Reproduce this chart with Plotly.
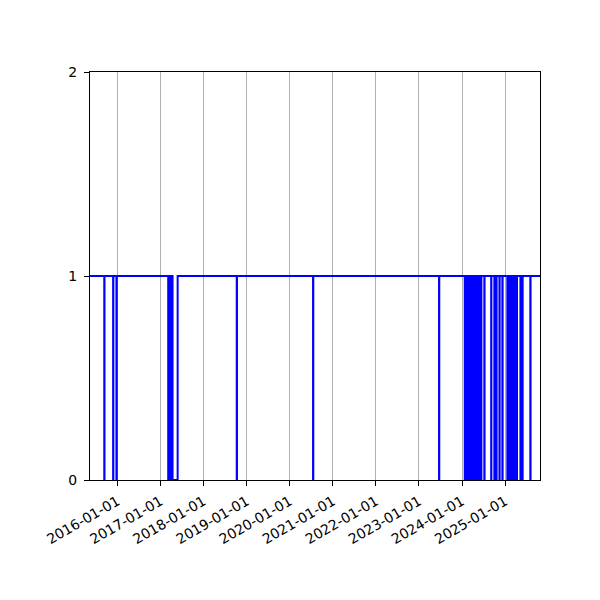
import plotly.graph_objects as go

# Start and end of the range shown.
x_first = '2015-05-14'
x_last = '2025-10-23'

# Periods where the signal drops to 0 (start, back to 1).
zero_start = ['2015-09-12', '2015-11-26', '2015-12-24', '2017-03-07', '2017-03-26', '2017-04-13',
              '2018-10-09', '2020-07-17', '2023-06-20',
              '2024-01-24', '2024-01-29', '2024-02-03', '2024-02-08', '2024-02-13', '2024-02-18',
              '2024-02-23', '2024-02-28', '2024-03-04', '2024-03-09', '2024-03-14', '2024-03-19',
              '2024-03-24', '2024-03-29', '2024-04-03', '2024-04-08', '2024-04-13', '2024-04-18',
              '2024-04-23', '2024-04-28', '2024-05-03', '2024-05-08', '2024-05-13', '2024-05-18',
              '2024-05-23', '2024-05-28', '2024-06-02',
              '2024-06-11', '2024-07-08', '2024-09-04', '2024-10-01', '2024-10-18', '2024-11-13',
              '2024-12-08', '2025-01-19', '2025-02-05', '2025-02-22', '2025-03-11', '2025-03-25',
              '2025-05-10', '2025-05-27', '2025-08-02']
zero_end = ['2015-09-14', '2015-11-28', '2015-12-27', '2017-03-10', '2017-03-28', '2017-05-26',
            '2018-10-11', '2020-07-19', '2023-06-22',
            '2024-01-26', '2024-01-31', '2024-02-05', '2024-02-10', '2024-02-15', '2024-02-20',
            '2024-02-25', '2024-03-01', '2024-03-06', '2024-03-11', '2024-03-16', '2024-03-21',
            '2024-03-26', '2024-03-31', '2024-04-05', '2024-04-10', '2024-04-15', '2024-04-20',
            '2024-04-25', '2024-04-30', '2024-05-05', '2024-05-10', '2024-05-15', '2024-05-20',
            '2024-05-25', '2024-05-30', '2024-06-04',
            '2024-06-13', '2024-07-10', '2024-09-06', '2024-10-03', '2024-10-20', '2024-11-15',
            '2024-12-10', '2025-01-21', '2025-02-07', '2025-02-24', '2025-03-13', '2025-04-11',
            '2025-05-12', '2025-05-29', '2025-08-04']

y_ticks = [0, 1, 2]

# Build step points from the zero periods.
xs = [x_first]; ys = [1]
for s, e in zip(zero_start, zero_end):
    xs += [s, e]; ys += [0, 1]
xs.append(x_last); ys.append(1)

fig = go.Figure(go.Scatter(x=xs, y=ys, mode='lines', line=dict(color='#0000ff', width=2, shape='hv'),
                           showlegend=False))

axis_font = dict(family='DejaVu Sans', size=14, color='black')
fig.update_layout(
    width=600, height=600,
    margin=dict(l=82, r=68, t=64, b=128),
    paper_bgcolor='white', plot_bgcolor='white',
    xaxis=dict(range=[x_first, x_last], type='date', tick0='2016-01-01', dtick='M12', tickformat='%Y-%m-%d',
               tickangle=-30, showgrid=True, gridcolor='#b0b0b0', gridwidth=1,
               showline=True, linecolor='black', linewidth=1, mirror=True, ticklabelstandoff=2,
               ticks='outside', ticklen=5, tickcolor='black', tickfont=axis_font, zeroline=False),
    yaxis=dict(range=[0, 2], tickvals=y_ticks, showgrid=False,
               showline=True, linecolor='black', linewidth=1, mirror=True, ticklabelstandoff=4,
               ticks='outside', ticklen=5, tickcolor='black', tickfont=axis_font, zeroline=False),
)

fig.write_html('out.html')
